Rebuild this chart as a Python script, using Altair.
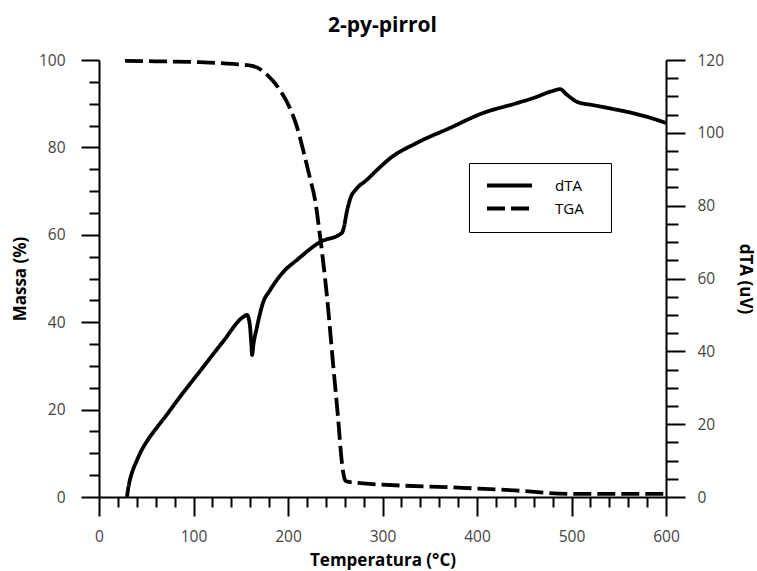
import altair as alt
import pandas as pd

# TGA (mass %, left axis)
tga_temp = [27.5, 60, 107, 142, 163, 178, 191.5, 202, 209.5, 216, 223, 228.6, 234,
            241.3, 247.6, 252.9, 257.1, 259.5, 261.5, 270, 385, 440, 498, 600]
tga_mass = [99.8, 99.7, 99.5, 99.1, 98.6, 96.6, 93.1, 89.0, 84.7, 79.4, 73.2, 68.0, 59.5,
            45.8, 30.7, 18.3, 7.8, 4.4, 3.6, 3.3, 2.1, 1.5, 0.7, 0.7]

# dTA (uV, right axis)
dta_temp = [29.6, 31, 33, 36, 40, 45, 52, 61, 70, 82.5, 107, 131, 152.4, 156.6, 159.5, 161.2,
            162, 163.5, 167, 173.5, 181, 195, 209.5, 233.9, 257, 259.5, 262, 266, 272,
            283, 295, 308, 336, 371, 406, 440, 459, 480, 488, 495, 506, 523, 545, 565,
            585, 600]
dta_val = [0, 2.5, 5, 7.5, 10, 12.8, 15.8, 19, 22, 26.4, 34.6, 42.6, 49.4, 50.0, 47.5, 42,
           39, 42, 46.5, 53.3, 56.8, 61.8, 65.1, 70, 72.5, 74.5, 78, 82, 84.5,
           87, 90, 93, 97.2, 101.3, 105.4, 108, 109.5, 111.5, 112, 110.5, 108.5, 107.6, 106.5, 105.4,
           104, 102.7]

x_ticks = [0, 20, 40, 60, 80, 100, 120, 140, 160, 180, 200, 220, 240, 260, 280, 300,
           320, 340, 360, 380, 400, 420, 440, 460, 480, 500, 520, 540, 560, 580, 600]
left_ticks = [0, 5, 10, 15, 20, 25, 30, 35, 40, 45, 50, 55, 60, 65, 70, 75, 80, 85, 90, 95, 100]
right_ticks = [0, 5, 10, 15, 20, 25, 30, 35, 40, 45, 50, 55, 60, 65, 70, 75, 80, 85, 90, 95,
               100, 105, 110, 115, 120]

series_names = ["dTA", "TGA"]

tga_df = pd.DataFrame({"T": tga_temp, "v": tga_mass, "s": "TGA"})
dta_df = pd.DataFrame({"T": dta_temp, "v": dta_val, "s": "dTA"})

FONT = "Open Sans"
LABEL_COLOR = "#444444"

def x_axis():
    return alt.Axis(
        values=x_ticks,
        labelExpr="datum.value % 100 === 0 ? datum.label : ''",
        tickSize={"condition": {"test": "datum.value % 100 === 0", "value": 19}, "value": 10},
        tickColor="black", tickWidth=2, domainColor="black", domainWidth=2,
        labelFont=FONT, labelFontSize=15.5, labelColor=LABEL_COLOR, labelPadding=13,
        labelFlush=False,
        grid=False, title="Temperatura (°C)", titleFont=FONT, titleFontSize=17,
        titleFontWeight="bold", titleColor="black", titlePadding=8,
    )

dash_scale = alt.Scale(domain=series_names, range=[[1, 0], [18, 6]])
legend = alt.Legend(
    title="\u00a0", titleOrient="right", titlePadding=12, titleFontSize=15, titleFont=FONT,
    orient="none", legendX=370, legendY=103,
    symbolType="M-1,0L9,0", symbolSize=81, symbolStrokeWidth=4, symbolStrokeColor="black",
    labelFont=FONT, labelFontSize=15, labelColor="black", labelOffset=56,
    strokeColor="black", padding=15, rowPadding=6,
)

base_x = alt.X("T:Q", scale=alt.Scale(domain=[0, 600], nice=False), axis=x_axis())

tga = alt.Chart(tga_df).mark_line(color="black", strokeWidth=3.8, interpolate="monotone").encode(
    x=base_x,
    y=alt.Y("v:Q", scale=alt.Scale(domain=[0, 100], nice=False),
            axis=alt.Axis(
                orient="left", values=left_ticks,
                labelExpr="datum.value % 20 === 0 ? datum.label : ''",
                tickSize={"condition": {"test": "datum.value % 20 === 0", "value": 18}, "value": 10},
                tickColor="black", tickWidth=2, domainColor="black", domainWidth=2,
                labelFont=FONT, labelFontSize=15.5, labelColor=LABEL_COLOR, labelPadding=16,
                grid=False, title="Massa (%)", titleFont=FONT, titleFontSize=17,
                titleFontWeight="bold", titleColor="black", titlePadding=9,
            )),
    strokeDash=alt.StrokeDash("s:N", scale=dash_scale, legend=legend),
)

dta = alt.Chart(dta_df).mark_line(color="black", strokeWidth=3.8, interpolate="monotone").encode(
    x=base_x,
    y=alt.Y("v:Q", scale=alt.Scale(domain=[0, 120], nice=False),
            axis=alt.Axis(
                orient="right", values=right_ticks,
                labelExpr="datum.value % 20 === 0 ? datum.label : ''",
                tickSize={"condition": {"test": "datum.value % 20 === 0", "value": 19}, "value": 12},
                tickColor="black", tickWidth=2, domainColor="black", domainWidth=2,
                labelFont=FONT, labelFontSize=15.5, labelColor=LABEL_COLOR, labelPadding=12,
                grid=False, title="dTA (uV)", titleFont=FONT, titleFontSize=17,
                titleFontWeight="bold", titleColor="black", titlePadding=12,
            )),
    strokeDash=alt.StrokeDash("s:N", scale=dash_scale, legend=legend),
)

chart = alt.layer(dta, tga).resolve_scale(y="independent").properties(
    width=567, height=437,
    background="white",
    autosize=alt.AutoSizeParams(type="none"),
    padding={"left": 99, "top": 60, "right": 91, "bottom": 74},
    title=alt.Title("2-py-pirrol", font=FONT, fontSize=21, fontWeight="bold",
                    color="black", anchor="middle", offset=17),
).configure_view(strokeWidth=0)

chart.save("out.html", embed_options={"renderer": "svg", "actions": False})
